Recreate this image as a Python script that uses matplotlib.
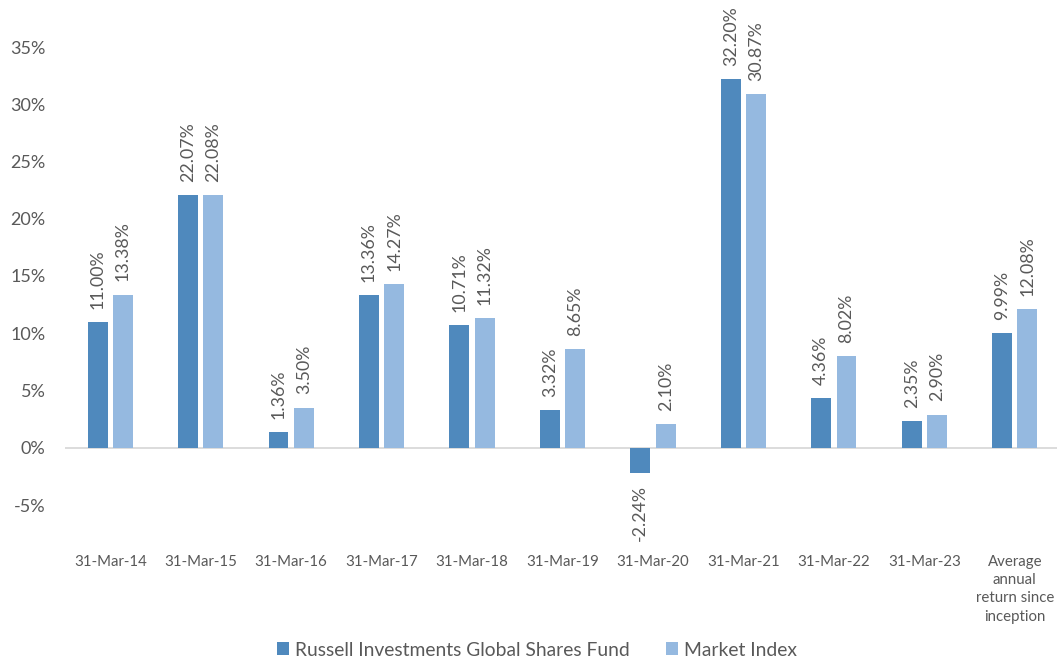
import matplotlib
matplotlib.use("Agg")
import matplotlib.pyplot as plt
import numpy as np
from matplotlib.patches import Patch

categories = ["31-Mar-14", "31-Mar-15", "31-Mar-16", "31-Mar-17", "31-Mar-18",
              "31-Mar-19", "31-Mar-20", "31-Mar-21", "31-Mar-22", "31-Mar-23",
              "Average\nannual\nreturn since\ninception"]
fund = [11.00, 22.07, 1.36, 13.36, 10.71, 3.32, -2.24, 32.20, 4.36, 2.35, 9.99]
index = [13.38, 22.08, 3.50, 14.27, 11.32, 8.65, 2.10, 30.87, 8.02, 2.90, 12.08]
series_names = ["Russell Investments Global Shares Fund", "Market Index"]
yticks = [-5, 0, 5, 10, 15, 20, 25, 30, 35]

plt.rcParams['font.family'] = ['Lato', 'DejaVu Sans']
TXT = '#595959'
C1 = '#4F89BD'
C2 = '#95B9E0'

fig = plt.figure(figsize=(10.57, 6.62), dpi=100)
ax = fig.add_axes([65/1057, 1-505/662, 995/1057, 458/662])

x = np.arange(len(categories))
w = 0.22
off = 0.14
b1 = ax.bar(x - off, fund, w, color=C1, zorder=3)
b2 = ax.bar(x + off, index, w, color=C2, zorder=3)

for bars, vals in ((b1, fund), (b2, index)):
    for rect, v in zip(bars, vals):
        cx = rect.get_x() + rect.get_width() / 2
        if v >= 0:
            ax.annotate(f"{v:.2f}%", (cx, v), xytext=(0, 9.5), textcoords='offset points',
                        rotation=90, ha='center', va='bottom', fontsize=12.8, color=TXT)
        else:
            ax.annotate(f"{v:.2f}%", (cx, v), xytext=(0, -8.5), textcoords='offset points',
                        rotation=90, ha='center', va='top', fontsize=12.8, color=TXT)

ax.set_xlim(-0.5, len(categories) - 0.5)
ax.set_ylim(-5, 35)
ax.set_yticks(yticks)
ax.set_yticklabels([f"{t}%" for t in yticks], fontsize=13, color=TXT)
ax.set_xticks(x)
ax.set_xticklabels(categories, fontsize=10.8, color=TXT, linespacing=1.38, va='top')
ax.tick_params(axis='both', length=0)
ax.tick_params(axis='y', pad=14)
ax.tick_params(axis='x', pad=36)
for s in ax.spines.values():
    s.set_visible(False)
ax.axhline(0, color='#d9d9d9', lw=1.3, zorder=2)

handles = [Patch(facecolor=C1, label=series_names[0]), Patch(facecolor=C2, label=series_names[1])]
fig.legend(handles=handles, loc='center', bbox_to_anchor=(537/1057, 1-650/662), ncol=2,
           frameon=False, fontsize=13.9, labelcolor=TXT, handlelength=0.62, handleheight=0.62,
           handletextpad=0.3, columnspacing=1.9)

fig.savefig("out.png", dpi=100)
